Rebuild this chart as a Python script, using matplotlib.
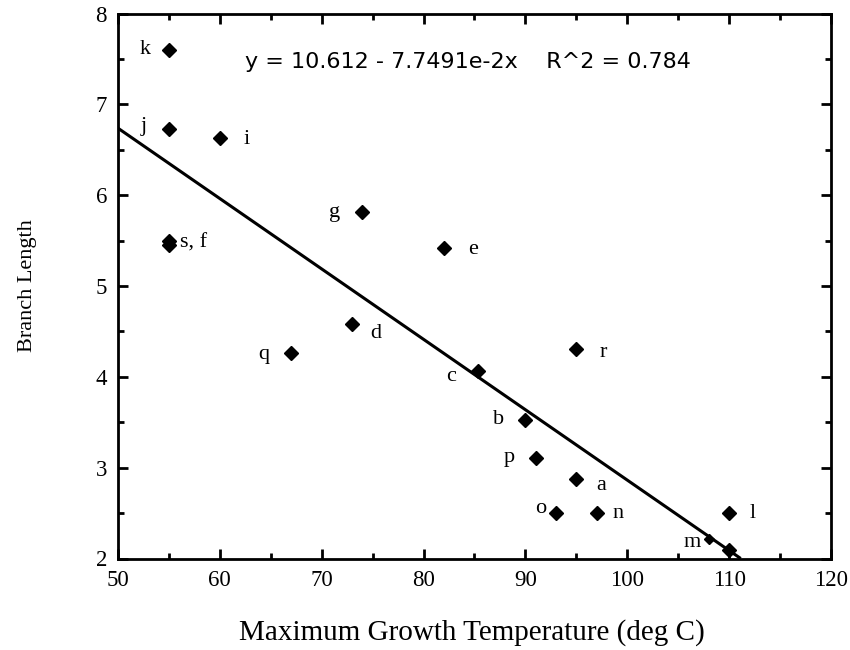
import matplotlib
matplotlib.use("Agg")
import matplotlib.pyplot as plt
import numpy as np
from matplotlib.ticker import MultipleLocator

# ---- data ----
labels = ["a", "b", "c", "d", "e", "f", "g", "h", "i", "j", "k", "l", "m", "n", "o", "p", "q", "r", "s"]
temps = [95, 90, 85.3, 73, 82, 55, 74, 110, 60, 55, 55, 110, 108, 97, 93, 91, 67, 95, 55]
branch = [2.87, 3.52, 4.06, 4.58, 5.42, 5.45, 5.81, 2.09, 6.63, 6.73, 7.60, 2.50, 2.22, 2.50, 2.50, 3.11, 4.26, 4.31, 5.50]
intercept = 10.612
slope = -7.7491e-2
r2 = 0.784
x_ticks = [50, 60, 70, 80, 90, 100, 110, 120]
y_ticks = [2, 3, 4, 5, 6, 7, 8]

# ---- label placement (offset points, alignment) ----
label_pos = {
    "a": (18, -4, "center"), "b": (-19, 1, "center"), "c": (-19, -4, "center"),
    "d": (17, -7, "center"), "e": (21, -1, "center"), "f": None,
    "g": (-20, 0, "center"), "h": None, "i": (19, -1, "center"),
    "j": (-18, 2, "center"), "k": (-17, 0, "center"), "l": (17, 0, "center"),
    "m": (-12, -3, "center"), "n": (15, 0, "center"), "o": (-11, 3, "center"),
    "p": (-19, 0, "center"), "q": (-20, -1, "center"), "r": (19, -3, "center"),
    "s": (8, -2, "left"),
}
text_labels = {"s": "s, f"}

plt.rcParams["font.family"] = ["Liberation Serif", "DejaVu Serif"]

fig = plt.figure(figsize=(8.5, 6.5), dpi=100)
ax = fig.add_axes([118 / 850, 1 - 558.5 / 650, (831 - 118) / 850, (558.5 - 13.5) / 650])

# regression line
xl = np.array([50, (2 - intercept) / slope])
ax.plot(xl, intercept + slope * xl, color="black", lw=2.2, zorder=2, solid_capstyle="butt")

# points
for lab, xv, yv in zip(labels, temps, branch):
    ms = 5 if lab == "m" else 7.5
    ax.plot(xv, yv, marker="D", ms=ms, color="black", mec="black", zorder=3, clip_on=False)
    pos = label_pos.get(lab)
    if pos is None:
        continue
    dx, dy, ha = pos
    ax.annotate(text_labels.get(lab, lab), (xv, yv), xytext=(dx, dy), textcoords="offset points",
                ha=ha, va="center", fontsize=16, family=["Liberation Serif"])

ax.text(62.5, 7.47, f"y = {intercept:.3f} - 7.7491e-2x    R^2 = {r2:.3f}", fontsize=16,
        family=["DejaVu Sans"], ha="left", va="center")

ax.set_xlim(50, 120)
ax.set_ylim(2, 8)
ax.set_xticks(x_ticks)
ax.set_yticks(y_ticks)
ax.xaxis.set_minor_locator(MultipleLocator(5))
ax.yaxis.set_minor_locator(MultipleLocator(0.5))
ax.tick_params(which="both", direction="in", top=True, right=True, width=2, labelsize=16.5, color="black")
ax.tick_params(which="major", length=7, pad=8)
ax.tick_params(which="minor", length=4)
for sp in ax.spines.values():
    sp.set_linewidth(2)

ax.set_xlabel("Maximum Growth Temperature (deg C)", fontsize=21)
ax.xaxis.set_label_coords(0.497, -0.112)
ax.set_ylabel("Branch Length", fontsize=16)
ax.yaxis.set_label_coords(-0.114, 0.5)

fig.savefig("out.png", dpi=100)
